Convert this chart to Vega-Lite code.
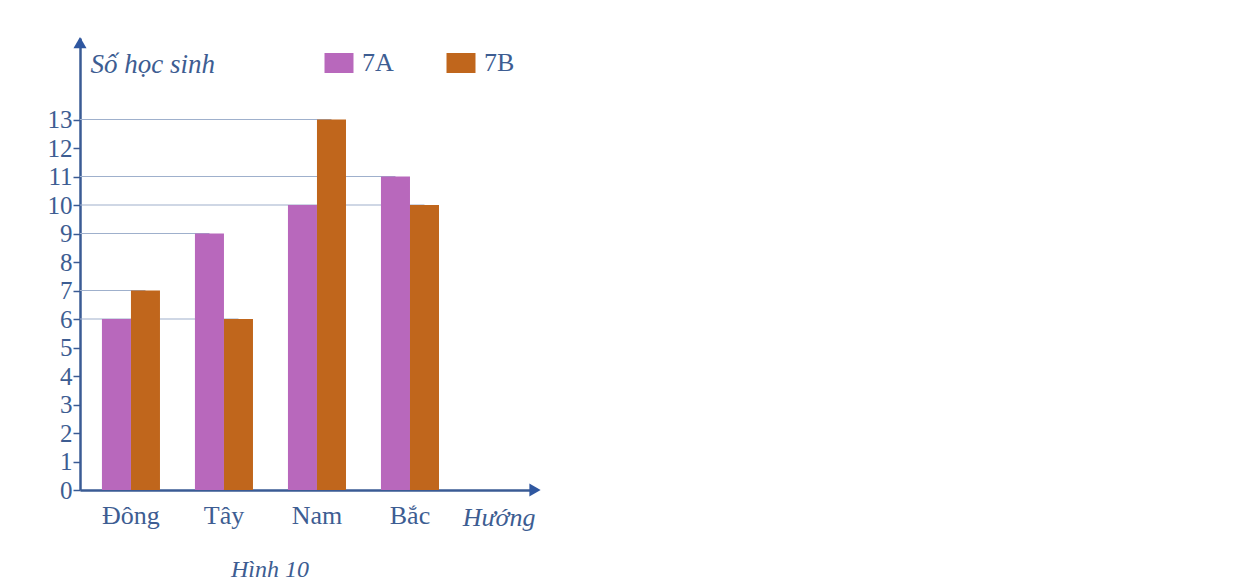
{
  "$schema": "https://vega.github.io/schema/vega-lite/v6.json",
  "width": 455,
  "height": 452,
  "autosize": "none",
  "padding": {"left": 80, "top": 38, "right": 725, "bottom": 94},
  "background": "white",
  "config": {
    "view": {"stroke": null},
    "font": "Liberation Serif"
  },
  "title": {
    "text": "Hình 10",
    "orient": "bottom",
    "anchor": "start",
    "dx": 184,
    "offset": 28,
    "font": "Liberation Serif",
    "fontSize": 24,
    "fontStyle": "italic",
    "fontWeight": "normal",
    "color": "#3d5d92"
  },
  "datasets": {
    "bars": [
      {"dir": "Đông", "cls": "7A", "n": 6},
      {"dir": "Đông", "cls": "7B", "n": 7},
      {"dir": "Tây", "cls": "7A", "n": 9},
      {"dir": "Tây", "cls": "7B", "n": 6},
      {"dir": "Nam", "cls": "7A", "n": 10},
      {"dir": "Nam", "cls": "7B", "n": 13},
      {"dir": "Bắc", "cls": "7A", "n": 11},
      {"dir": "Bắc", "cls": "7B", "n": 10}
    ],
    "guides": [
      {"dir": "Tây", "cls": "7B", "n": 6},
      {"dir": "Đông", "cls": "7B", "n": 7},
      {"dir": "Tây", "cls": "7A", "n": 9},
      {"dir": "Bắc", "cls": "7B", "n": 10},
      {"dir": "Bắc", "cls": "7A", "n": 11},
      {"dir": "Nam", "cls": "7B", "n": 13}
    ],
    "arrows": [
      {"axis": "y", "px": 0, "n": 15.7, "shape": "triangle-up"},
      {"axis": "x", "px": 1, "n": 0, "shape": "triangle-right"}
    ]
  },
  "resolve": {"scale": {"x": "independent"}},
  "encoding": {
    "y": {
      "field": "n", "type": "quantitative",
      "scale": {"domain": [0, 15.86], "nice": false},
      "axis": {
        "values": [0, 1, 2, 3, 4, 5, 6, 7, 8, 9, 10, 11, 12, 13],
        "labelOverlap": false,
        "grid": false,
        "title": "Số học sinh",
        "titleAngle": 0,
        "titleX": 10,
        "titleY": 34,
        "titleAlign": "left",
        "titleBaseline": "alphabetic",
        "titleFont": "Liberation Serif",
        "titleFontSize": 27,
        "titleFontStyle": "italic",
        "titleFontWeight": "normal",
        "titleColor": "#3d5d92",
        "labelFont": "Liberation Serif",
        "labelFontSize": 25,
        "labelColor": "#3d5d92",
        "labelPadding": 1,
        "tickSize": 7,
        "tickColor": "#3a5b94",
        "tickWidth": 1.5,
        "domainColor": "#3a5b94",
        "domainWidth": 2.5
      }
    }
  },
  "layer": [
    {
      "data": {"name": "guides"},
      "mark": {"type": "rule", "stroke": "#9fb0cc", "strokeWidth": 1.2},
      "encoding": {
        "x": {
          "field": "dir", "type": "nominal", "bandPosition": 0,
          "sort": ["Đông", "Tây", "Nam", "Bắc"],
          "scale": {"domain": ["Đông", "Tây", "Nam", "Bắc"], "paddingInner": 0.376, "paddingOuter": 0.634, "align": 0.186},
          "axis": null
        },
        "x2": {"value": 0},
        "xOffset": {"field": "cls", "type": "nominal", "scale": {"domain": ["7A", "7B"]}}
      }
    },
    {
      "data": {"name": "bars"},
      "mark": {"type": "bar"},
      "encoding": {
        "x": {
          "field": "dir", "type": "nominal",
          "sort": ["Đông", "Tây", "Nam", "Bắc"],
          "scale": {"domain": ["Đông", "Tây", "Nam", "Bắc"], "paddingInner": 0.376, "paddingOuter": 0.634, "align": 0.186},
          "axis": {
            "title": "Hướng",
            "titleX": 455,
            "titleY": 35,
            "titleAlign": "right",
            "titleBaseline": "alphabetic",
            "titleFont": "Liberation Serif",
            "titleFontSize": 26,
            "titleFontStyle": "italic",
            "titleFontWeight": "normal",
            "titleColor": "#3d5d92",
            "labelAngle": 0,
            "labelFont": "Liberation Serif",
            "labelFontSize": 26,
            "labelColor": "#3d5d92",
            "labelPadding": 12,
            "ticks": false,
            "domainColor": "#3a5b94",
            "domainWidth": 2.5
          }
        },
        "xOffset": {"field": "cls", "type": "nominal", "scale": {"domain": ["7A", "7B"]}},
        "color": {
          "field": "cls", "type": "nominal",
          "scale": {"domain": ["7A", "7B"], "range": ["#b868bc", "#c0661c"]},
          "legend": {
            "title": null,
            "orient": "none",
            "legendX": 246,
            "legendY": 12,
            "direction": "horizontal",
            "symbolType": "M-1.45,-1L1.45,-1L1.45,1L-1.45,1Z",
            "symbolSize": 400,
            "symbolStrokeWidth": 0,
            "labelFont": "Liberation Serif",
            "labelFontSize": 26,
            "labelColor": "#3d5d92",
            "labelOffset": 10,
            "columnPadding": 52
          }
        }
      }
    },
    {
      "data": {"name": "arrows"},
      "mark": {"type": "point", "filled": true, "color": "#2f57a0", "opacity": 1, "size": 170},
      "encoding": {
        "x": {"field": "px", "type": "quantitative", "scale": {"domain": [0, 1], "nice": false}, "axis": null},
        "shape": {"field": "shape", "type": "nominal", "scale": {"domain": ["triangle-up", "triangle-right"], "range": ["triangle-up", "triangle-right"]}, "legend": null}
      }
    }
  ]
}
